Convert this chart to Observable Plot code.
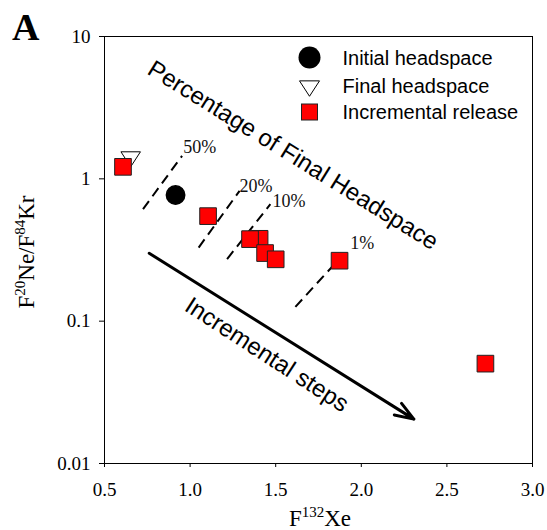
<!DOCTYPE html>
<html><head><meta charset="utf-8">
<script src="https://cdn.jsdelivr.net/npm/d3@7"></script>
<script src="https://cdn.jsdelivr.net/npm/@observablehq/plot@0.6"></script>
<style>body{margin:0;background:#fff}</style>
</head><body><div id="chart"></div>
<script>
// ---- data ----
const initialX = [0.915];
const initialY = [0.769];
const finalX = [0.653];
const finalY = [1.428];
const incX = [0.608, 1.105, 1.406, 1.350, 1.438, 1.500, 1.873, 2.725];
const incY = [1.214, 0.547, 0.379, 0.377, 0.301, 0.272, 0.266, 0.0503];
const isoLabels = ["50%", "20%", "10%", "1%"];
const isoX1 = [0.725, 1.050, 1.216, 1.615];
const isoY1 = [0.612, 0.329, 0.273, 0.126];
const isoX2 = [0.953, 1.289, 1.469, 1.888];
const isoY2 = [1.45, 0.823, 0.664, 0.288];
const isoLabelX = [0.960, 1.289, 1.481, 1.936];
const isoLabelY = [1.66, 0.886, 0.695, 0.352];
const arrowX = [0.761, 2.307];
const arrowY = [0.300, 0.0205];
const notes = ["Percentage of Final Headspace", "Incremental steps"];
const noteX = [1.601, 1.448];
const noteY = [1.462, 0.058];
const noteAngle = [31.8, 33];
const xTicks = [0.5, 1.0, 1.5, 2.0, 2.5, 3.0];
const yTicks = [0.01, 0.1, 1, 10];
const legendLabels = ["Initial headspace", "Final headspace", "Incremental release"];

// ---- chart ----
const triDown = {
  draw(ctx, size) {
    const r = Math.sqrt(size / Math.PI);
    const hw = 1.3 * r, h = 2.0 * r;
    ctx.moveTo(-hw, -h / 3);
    ctx.lineTo(hw, -h / 3);
    ctx.lineTo(0, 2 * h / 3);
    ctx.closePath();
  }
};

const serif = "'Liberation Serif', 'Times New Roman', serif";
const sans = "'Liberation Sans', Arial, sans-serif";

const isoData = isoLabels.map((l, i) => ({l, x1: isoX1[i], y1: isoY1[i], x2: isoX2[i], y2: isoY2[i], lx: isoLabelX[i], ly: isoLabelY[i]}));
const incData = incX.map((x, i) => ({x, y: incY[i]}));
const arrowData = [{x1: arrowX[0], y1: arrowY[0], x2: arrowX[1], y2: arrowY[1]}];
const noteData = notes.map((t, i) => ({t, x: noteX[i], y: noteY[i], a: noteAngle[i]}));

const svg = Plot.plot({
  width: 547,
  height: 530,
  marginLeft: 104,
  marginRight: 15,
  marginTop: 36,
  marginBottom: 67,
  style: {fontFamily: serif, fontSize: "19px", color: "black", background: "white"},
  x: {domain: [0.5, 3.0]},
  y: {type: "log", domain: [0.01, 10]},
  marks: [
    Plot.frame({stroke: "black", strokeWidth: 1}),
    Plot.axisX({ticks: xTicks, tickFormat: d3.format(".1f"), tickSize: 4, tickPadding: 15, label: null, fontSize: 19, fontFamily: serif}),
    Plot.axisY({ticks: yTicks, tickFormat: d => String(d), tickSize: 5, tickPadding: 9, label: null, fontSize: 19, fontFamily: serif}),
    Plot.link(isoData, {x1: "x1", y1: "y1", x2: "x2", y2: "y2", stroke: "black", strokeWidth: 2, strokeDasharray: "10,6"}),
    Plot.text(isoData, {x: "lx", y: "ly", text: "l", textAnchor: "start", fontSize: 18, fontFamily: serif, fill: "#111"}),
    Plot.arrow(arrowData, {x1: "x1", y1: "y1", x2: "x2", y2: "y2", stroke: "black", strokeWidth: 3, headLength: 10, headAngle: 40}),
    Plot.text(noteData, {x: "x", y: "y", text: "t", rotate: "a", fontSize: 24, fontFamily: sans, fill: "black"}),
    Plot.dot(finalX.map((x, i) => ({x, y: finalY[i]})), {x: "x", y: "y", symbol: triDown, r: 7.5, fill: "white", stroke: "black", strokeWidth: 1}),
    Plot.dot(initialX.map((x, i) => ({x, y: initialY[i]})), {x: "x", y: "y", symbol: "circle", r: 9.2, fill: "black", stroke: "black"}),
    Plot.dot(incData, {x: "x", y: "y", symbol: "square", r: 9.4, fill: "#ff0000", stroke: "#222", strokeWidth: 1})
  ]
});

const g = d3.select(svg);

// legend
const lg = g.append("g").attr("text-anchor", "start");
const lx = 309.5, ly = [57.5, 86, 112], tx = 342.5;
lg.append("circle").attr("cx", lx).attr("cy", ly[0]).attr("r", 11).attr("fill", "black");
lg.append("path").attr("transform", `translate(${lx},${ly[1]})`)
  .attr("d", d3.symbol(triDown, Math.PI * 7.7 * 7.7)()).attr("fill", "white").attr("stroke", "black");
lg.append("rect").attr("x", lx - 8).attr("y", ly[2] - 8).attr("width", 16).attr("height", 16)
  .attr("fill", "#ff0000").attr("stroke", "#222");
legendLabels.forEach((t, i) => {
  lg.append("text").attr("x", tx).attr("y", ly[i]).attr("dy", "0.35em").attr("text-anchor", "start")
    .attr("font-family", sans).attr("font-size", 20).attr("fill", "black").text(t);
});

// axis titles with superscripts
const xt = g.append("text").attr("x", 320).attr("y", 526).attr("text-anchor", "middle")
  .attr("font-family", serif).attr("font-size", 23).attr("fill", "black");
xt.append("tspan").text("F");
xt.append("tspan").attr("font-size", 15).attr("dy", -9).text("132");
xt.append("tspan").attr("dy", 9).text("Xe");

const yt = g.append("text").attr("transform", "translate(34,252) rotate(-90)").attr("text-anchor", "middle")
  .attr("font-family", serif).attr("font-size", 23).attr("fill", "black");
yt.append("tspan").text("F");
yt.append("tspan").attr("font-size", 15).attr("dy", -9).text("20");
yt.append("tspan").attr("dy", 9).text("Ne/F");
yt.append("tspan").attr("font-size", 15).attr("dy", -9).text("84");
yt.append("tspan").attr("dy", 9).text("Kr");

// panel letter
g.append("text").attr("x", 12).attr("y", 40).attr("text-anchor", "start").attr("font-family", serif).attr("font-weight", "bold")
  .attr("font-size", 38).attr("fill", "black").text("A");

document.getElementById("chart").appendChild(svg);
</script>
</body></html>
